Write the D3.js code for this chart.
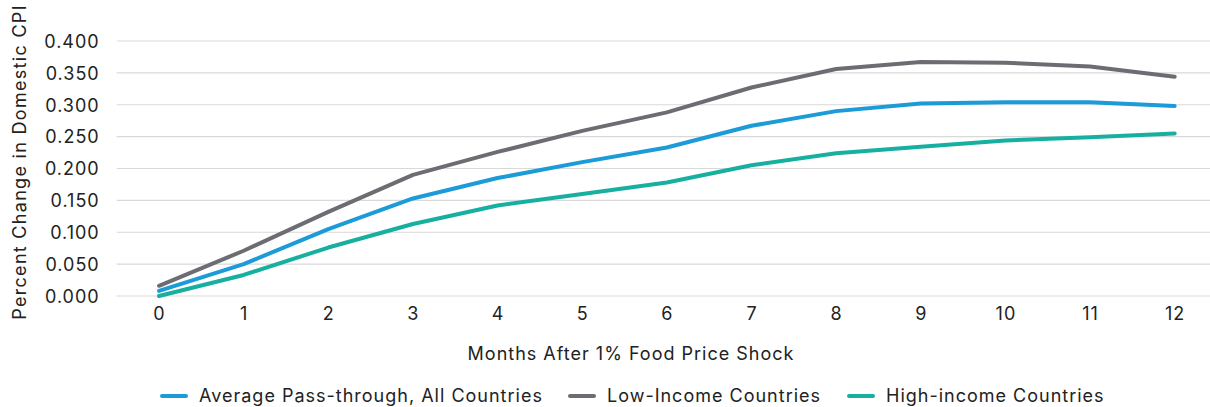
<!DOCTYPE html>
<html>
<head>
<meta charset="utf-8">
<script src="https://cdn.jsdelivr.net/npm/d3@7"></script>
<style>
  body { margin: 0; background: #fff; }
  svg text { font-family: "Inter", "Liberation Sans", sans-serif; fill: #222; font-size: 18px; letter-spacing: 1px; }
</style>
</head>
<body>
<div id="chart"></div>
<script>
// chart size
const width = 1210;
const height = 407;
const margin = {left: 116.7, right: -7, top: 41, bottom: 111};

// data
const months = [0, 1, 2, 3, 4, 5, 6, 7, 8, 9, 10, 11, 12];
const avgAll = [0.008, 0.050, 0.105, 0.153, 0.185, 0.210, 0.233, 0.267, 0.290, 0.302, 0.304, 0.304, 0.298];
const lowIncome = [0.016, 0.071, 0.132, 0.190, 0.226, 0.259, 0.288, 0.327, 0.356, 0.367, 0.366, 0.360, 0.344];
const highIncome = [0.000, 0.033, 0.076, 0.113, 0.142, 0.160, 0.178, 0.205, 0.224, 0.234, 0.244, 0.249, 0.255];
const yTicks = [0, 0.05, 0.1, 0.15, 0.2, 0.25, 0.3, 0.35, 0.4];

const series = [
  {name: "Average Pass-through, All Countries", values: avgAll, color: "#1b9bd7"},
  {name: "Low-Income Countries", values: lowIncome, color: "#6c6d72"},
  {name: "High-income Countries", values: highIncome, color: "#17b0a0"}
];

const svg = d3.select("#chart")
  .append("svg")
  .attr("width", width)
  .attr("height", height);

// scales
const x = d3.scaleBand()
  .domain(months)
  .range([margin.left, width - margin.right]);

const y = d3.scaleLinear()
  .domain([0, 0.4])
  .range([height - margin.bottom, margin.top]);

const cx = d => x(d) + x.bandwidth() / 2;

// gridlines
svg.append("g")
  .selectAll("line")
  .data(yTicks)
  .enter()
  .append("line")
    .attr("x1", margin.left)
    .attr("x2", width)
    .attr("y1", d => y(d))
    .attr("y2", d => y(d))
    .attr("stroke", "#d9d9d9")
    .attr("stroke-width", 1.2);

// y axis labels
svg.append("g")
  .attr("transform", `translate(${margin.left - 14},0)`)
  .call(d3.axisLeft(y).tickValues(yTicks).tickFormat(d3.format(".3f")).tickSize(0))
  .call(g => g.select(".domain").remove())
  .selectAll("text")
    .attr("dy", "0.35em");

// x axis labels
svg.append("g")
  .attr("transform", `translate(0,${y(0)})`)
  .call(d3.axisBottom(x).tickSize(0).tickPadding(11))
  .call(g => g.select(".domain").remove())
  .selectAll("text")
    .attr("dx", "0.5px");

svg.selectAll(".tick text").style("fill", "#222");
svg.selectAll(".tick").attr("font-size", null).attr("font-family", null);

// axis titles
svg.append("text")
  .attr("x", 631)
  .attr("y", 360)
  .attr("text-anchor", "middle")
  .text("Months After 1% Food Price Shock");

svg.append("text")
  .attr("transform", "translate(26,162) rotate(-90)")
  .attr("text-anchor", "middle")
  .style("letter-spacing", "1.3px")
  .text("Percent Change in Domestic CPI");

// lines
const line = d3.line()
  .x((d, i) => cx(months[i]))
  .y(d => y(d));

svg.append("g")
  .selectAll("path")
  .data([series[1], series[0], series[2]])
  .enter()
  .append("path")
    .attr("d", d => line(d.values))
    .attr("fill", "none")
    .attr("stroke", d => d.color)
    .attr("stroke-width", 4)
    .attr("stroke-linecap", "round")
    .attr("stroke-linejoin", "round");

// legend
const legendX = [162, 570, 849];
const legend = svg.append("g")
  .selectAll("g")
  .data(series)
  .enter()
  .append("g")
    .attr("transform", (d, i) => `translate(${legendX[i]},396)`);

legend.append("line")
  .attr("x1", 0)
  .attr("x2", 24)
  .attr("stroke", d => d.color)
  .attr("stroke-width", 4)
  .attr("stroke-linecap", "round");

legend.append("text")
  .attr("x", 37)
  .attr("dy", "0.35em")
  .text(d => d.name);
</script>
</body>
</html>
